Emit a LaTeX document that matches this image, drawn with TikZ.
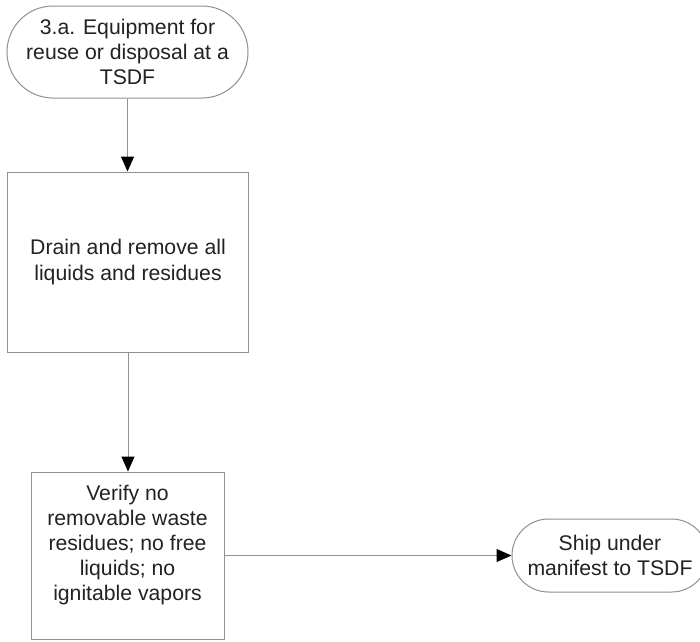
\documentclass[tikz,border=0pt]{standalone}
\usepackage{fontspec}
\setmainfont{Liberation Sans}
\usetikzlibrary{shapes.misc,arrows.meta}
\definecolor{linegray}{HTML}{909090}
\definecolor{txt}{HTML}{222222}
\tikzset{
  base/.style={draw=linegray, line width=1pt, fill=white, text=txt, align=center,
    font=\fontsize{21.2}{25.2}\selectfont, inner sep=0pt},
  term/.style={base, rounded rectangle},
  procbox/.style={base, rectangle},
  flow/.style={draw=linegray, line width=1pt, -{Triangle[length=15pt,width=13pt,color=black,fill=black]}}
}
\begin{document}
\begin{tikzpicture}[x=1pt,y=-1pt]
\useasboundingbox (0,0) rectangle (700,641);
\clip (0,0) rectangle (700,641);
\fill[white] (0,0) rectangle (700,641);
\node[term, minimum width=241pt, minimum height=92pt] (t1) at (127.5,52)
  {3.a. Equipment for\\reuse or disposal at a\\TSDF};
\node[procbox, minimum width=241pt, minimum height=180pt] (b2) at (128,262)
  {Drain and remove all\\liquids and residues};
\node[procbox, minimum width=193pt, minimum height=167pt] (b3) at (127.5,555.5)
  {Verify no\\removable waste\\residues; no free\\liquids; no\\ignitable vapors\\\mbox{}};
\node[term, minimum width=196pt, minimum height=73pt] (t4) at (610,555.5)
  {Ship under\\manifest to TSDF};
\draw[flow] (t1.south) -- (t1.south |- b2.north);
\draw[flow] (b2.south) -- (b2.south |- b3.north);
\draw[flow] (b3.east) -- (t4.west);
\end{tikzpicture}
\end{document}
